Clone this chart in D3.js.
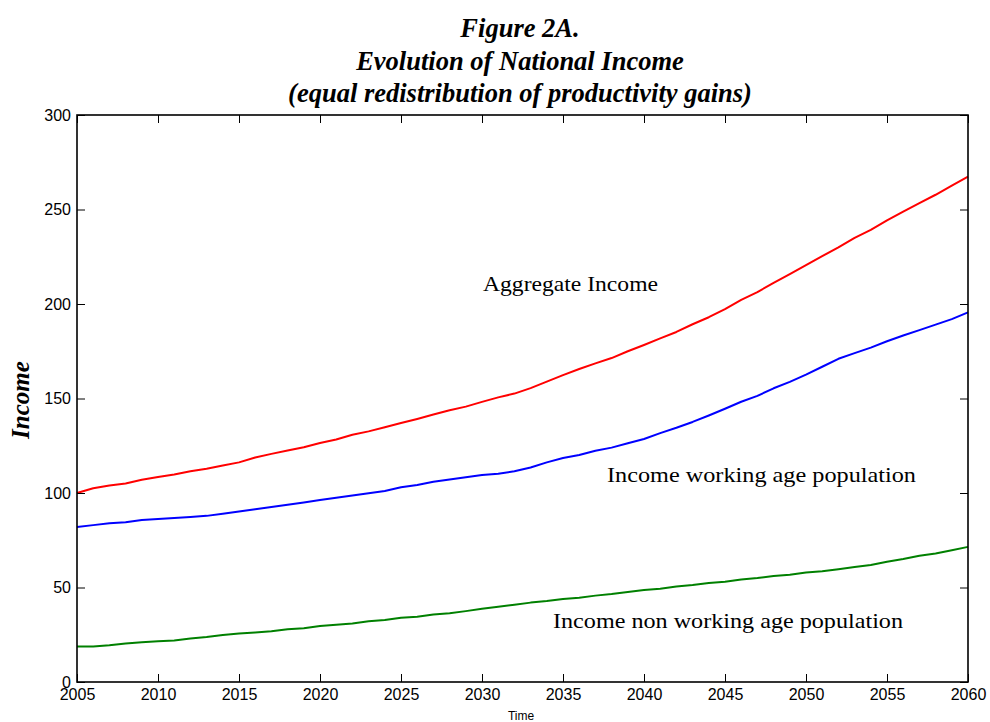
<!DOCTYPE html>
<html>
<head>
<meta charset="utf-8">
<script src="https://cdn.jsdelivr.net/npm/d3@7"></script>
<style>
  body { margin: 0; background: #fff; }
  svg { display: block; }
</style>
</head>
<body>
<svg id="chart" width="990" height="722"></svg>
<script>
// Annual series, 2005–2060
const years = d3.range(2005, 2061);

const aggregateIncome = [
  100, 102.5, 104, 105, 107, 108.5, 109.8, 111.5, 112.8, 114.5,
  116.2, 118.8, 120.7, 122.5, 124.2, 126.5, 128.3, 130.8, 132.6, 134.8,
  137, 139.2, 141.5, 143.8, 145.7, 148.2, 150.6, 152.6, 155.5, 158.9,
  162.4, 165.6, 168.6, 171.4, 175, 178.3, 181.8, 185.2, 189.3, 193,
  197.3, 202.2, 206.3, 211.2, 215.8, 220.6, 225.3, 230, 235, 239.2,
  244.2, 248.9, 253.4, 257.8, 262.6, 267.4
];

const workingAgeIncome = [
  82, 83, 84, 84.5, 85.7, 86.2, 86.8, 87.3, 87.9, 89,
  90.2, 91.4, 92.6, 93.8, 95, 96.3, 97.5, 98.7, 99.9, 101.1,
  103, 104.2, 105.9, 107.1, 108.3, 109.5, 110.2, 111.5, 113.5, 116.2,
  118.5, 120.1, 122.4, 124, 126.3, 128.6, 131.7, 134.5, 137.6, 141,
  144.6, 148.3, 151.4, 155.4, 158.8, 162.6, 166.8, 171, 174, 176.9,
  180.3, 183.3, 186.2, 189.1, 192, 195.6
];

const nonWorkingAgeIncome = [
  18.8, 18.8, 19.4, 20.4, 21, 21.5, 22, 23, 23.8, 24.9,
  25.6, 26.2, 26.8, 27.9, 28.5, 29.6, 30.3, 30.9, 32.1, 32.8,
  34, 34.5, 35.7, 36.4, 37.5, 38.7, 39.8, 40.9, 42, 42.8,
  43.9, 44.6, 45.7, 46.5, 47.6, 48.7, 49.4, 50.5, 51.3, 52.4,
  53.1, 54.2, 55, 56.1, 56.8, 57.9, 58.6, 59.7, 60.8, 61.9,
  63.6, 65.1, 66.8, 68, 69.7, 71.5
];

const xTicks = [2005, 2010, 2015, 2020, 2025, 2030, 2035, 2040, 2045, 2050, 2055, 2060];
const yTicks = [0, 50, 100, 150, 200, 250, 300];

const titleLines = [
  "Figure 2A.",
  "Evolution of National Income",
  "(equal redistribution of productivity gains)"
];

const seriesList = [
  { values: aggregateIncome, color: "#ff0000", label: "Aggregate Income", lx: 483, ly: 291, w: 175 },
  { values: workingAgeIncome, color: "#0000ff", label: "Income working age population", lx: 607, ly: 482, w: 309 },
  { values: nonWorkingAgeIncome, color: "#008000", label: "Income non working age population", lx: 553, ly: 628, w: 350 }
];

const margin = { left: 77, right: 22, top: 115, bottom: 40 };
const W = 990, H = 722;
const svg = d3.select("#chart");

const x = d3.scaleLinear().domain([2005, 2060]).range([margin.left, W - margin.right]);
const y = d3.scaleLinear().domain([0, 300]).range([H - margin.bottom, margin.top]);

const serif = "'Liberation Serif', 'Times New Roman', serif";
const sans = "'Liberation Sans', Arial, sans-serif";

// Title
svg.append("g").selectAll("text").data(titleLines).join("text")
  .attr("x", 520)
  .attr("y", (d, i) => 37 + i * 32.5)
  .attr("text-anchor", "middle")
  .attr("font-family", serif)
  .attr("font-size", 26.5)
  .attr("font-weight", "bold")
  .attr("font-style", "italic")
  .text(d => d);

// Lines
const line = d3.line()
  .x((d, i) => x(years[i]))
  .y(d => y(d));

svg.append("g").selectAll("path").data(seriesList).join("path")
  .attr("d", d => line(d.values))
  .attr("fill", "none")
  .attr("stroke", d => d.color)
  .attr("stroke-width", 2)
  .attr("stroke-linejoin", "round");

// Inline labels
svg.append("g").selectAll("text").data(seriesList).join("text")
  .attr("x", d => d.lx)
  .attr("y", d => d.ly)
  .attr("font-family", serif)
  .attr("font-size", 22)
  .attr("textLength", d => d.w)
  .attr("lengthAdjust", "spacingAndGlyphs")
  .text(d => d.label);

// Axes with inward ticks, mirrored on top and right
const axisStyle = g => {
  g.selectAll(".domain").remove();
  g.selectAll(".tick line").attr("stroke", "#000").attr("stroke-width", 1);
  g.selectAll(".tick text").attr("font-family", sans).attr("font-size", 16).attr("fill", "#000");
};

svg.append("g")
  .attr("transform", `translate(0,${H - margin.bottom})`)
  .call(d3.axisBottom(x).tickValues(xTicks).tickFormat(d3.format("d")).tickSizeInner(-8).tickPadding(6))
  .call(axisStyle)
  .call(g => g.selectAll(".tick text").attr("dy", "0.71em").attr("y", 7));

svg.append("g")
  .attr("transform", `translate(0,${margin.top})`)
  .call(d3.axisTop(x).tickValues(xTicks).tickFormat("").tickSizeInner(-8))
  .call(axisStyle);

svg.append("g")
  .attr("transform", `translate(${margin.left},0)`)
  .call(d3.axisLeft(y).tickValues(yTicks).tickSizeInner(-8).tickPadding(0))
  .call(axisStyle)
  .call(g => g.selectAll(".tick text").attr("x", -6));

svg.append("g")
  .attr("transform", `translate(${W - margin.right},0)`)
  .call(d3.axisRight(y).tickValues(yTicks).tickFormat("").tickSizeInner(-8))
  .call(axisStyle);

// Plot frame
svg.append("rect")
  .attr("x", margin.left)
  .attr("y", margin.top)
  .attr("width", W - margin.left - margin.right)
  .attr("height", H - margin.bottom - margin.top)
  .attr("fill", "none")
  .attr("stroke", "#000")
  .attr("stroke-width", 1.6);

// Axis titles
svg.append("text")
  .attr("x", W / 2 + 26)
  .attr("y", 720)
  .attr("text-anchor", "middle")
  .attr("font-family", sans)
  .attr("font-size", 12)
  .text("Time");

svg.append("text")
  .attr("transform", "translate(29,400) rotate(-90)")
  .attr("text-anchor", "middle")
  .attr("font-family", serif)
  .attr("font-size", 25)
  .attr("font-weight", "bold")
  .attr("font-style", "italic")
  .text("Income");
</script>
</body>
</html>
